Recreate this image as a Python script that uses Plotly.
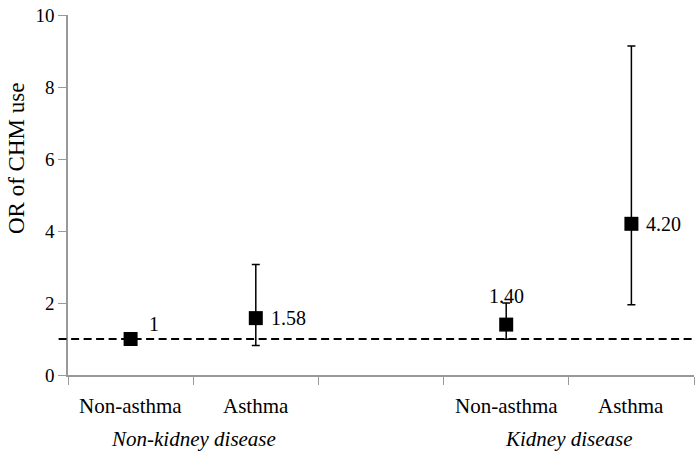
import plotly.graph_objects as go

# data
groups = ["Non-asthma", "Asthma", "", "Non-asthma", "Asthma"]
x_pos = [0, 1, 3, 4]
odds_ratio = [1.0, 1.58, 1.40, 4.20]
ci_low = [1.0, 0.82, 0.99, 1.95]
ci_high = [1.0, 3.07, 2.00, 9.14]
labels = ["1", "1.58", "1.40", "4.20"]
group_names = ["Non-kidney disease", "Kidney disease"]
group_centers = [0.5, 3.5]

serif = "Liberation Serif"
err_plus = [h - v for h, v in zip(ci_high, odds_ratio)]
err_minus = [v - l for v, l in zip(odds_ratio, ci_low)]

fig = go.Figure()
fig.add_trace(go.Scatter(
    x=x_pos, y=odds_ratio, mode="markers",
    marker=dict(symbol="square", size=14, color="black"),
    error_y=dict(type="data", array=err_plus, arrayminus=err_minus,
                 color="black", thickness=1.5, width=4),
    showlegend=False,
))

# reference line at OR = 1
fig.add_shape(type="line", xref="paper", yref="y", x0=-0.015, x1=1, y0=1, y1=1,
              line=dict(color="black", width=1.8, dash="8px,4.5px"))

# value labels
for i, (x, y, t) in enumerate(zip(x_pos, odds_ratio, labels)):
    if t == "1.40":
        fig.add_annotation(x=x, y=ci_high[i], text=t, showarrow=False,
                           yshift=7, font=dict(family=serif, size=20))
    elif t == "1":
        fig.add_annotation(x=x, y=y, text=t, showarrow=False, xanchor="left",
                           xshift=16, yshift=15, font=dict(family=serif, size=20))
    else:
        fig.add_annotation(x=x, y=y, text=t, showarrow=False, xanchor="left",
                           xshift=13, font=dict(family=serif, size=20))

# category labels
for i, g in enumerate(groups):
    if g:
        fig.add_annotation(x=i, y=0, yref="paper", text=g, showarrow=False,
                           yanchor="top", yshift=-17,
                           font=dict(family=serif, size=21))
for c, g in zip(group_centers, group_names):
    fig.add_annotation(x=c, y=0, yref="paper", text="<i>" + g + "</i>",
                       showarrow=False, yanchor="top", yshift=-50,
                       font=dict(family=serif, size=21))

# y axis title
fig.add_annotation(x=0, xref="paper", xanchor="center", xshift=-52,
                   y=0.6, yref="paper", text="OR of CHM use", textangle=-90,
                   showarrow=False, font=dict(family=serif, size=23))

fig.update_layout(
    width=699, height=453,
    margin=dict(l=68, r=5, t=10, b=78),
    plot_bgcolor="white", paper_bgcolor="white",
    font=dict(family=serif, size=18, color="black"),
)
fig.update_xaxes(range=[-0.5, 4.5], tickvals=[-0.5, 0.5, 1.5, 2.5, 3.5, 4.5],
                 ticktext=[""] * 6, ticks="outside", ticklen=8, tickcolor="#999999",
                 showline=True, linecolor="#999999", linewidth=1.5,
                 showgrid=False, zeroline=False)
fig.update_yaxes(range=[0, 10], dtick=2, ticks="outside", ticklen=8,
                 tickcolor="#999999", showline=True, linecolor="#999999",
                 linewidth=1.5, showgrid=False, zeroline=False,
                 ticklabeloverflow="allow",
                 tickfont=dict(family=serif, size=19))

fig.write_html("out.html", config={"displayModeBar": False},
               post_script="document.body.style.margin='0';")
